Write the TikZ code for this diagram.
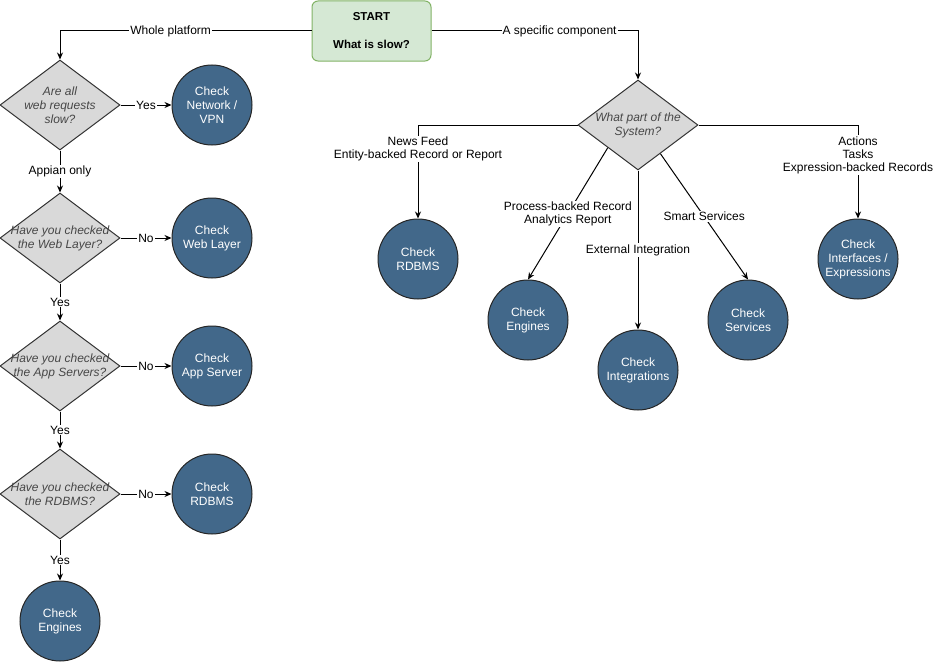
\documentclass[tikz,border=0pt]{standalone}
\usepackage{fontspec}
\setmainfont{Liberation Sans}
\usetikzlibrary{shapes.geometric,arrows.meta,calc}
\definecolor{checkblue}{HTML}{42688A}
\definecolor{startfill}{HTML}{D5E8D4}
\definecolor{startline}{HTML}{82B366}
\definecolor{asktext}{HTML}{474747}
\begin{document}
\begin{tikzpicture}[x=1pt,y=-1pt,line width=1pt,
  every node/.style={font=\fontsize{12}{14}\selectfont},
  ask/.style={diamond,draw=black!80,fill=black!15,minimum width=120pt,minimum height=90pt,inner sep=0pt},
  asktxt/.style={align=center,text=asktext,font=\fontsize{12}{14}\selectfont\itshape},
  check/.style={circle,draw=black!85,fill=checkblue,minimum size=80pt,inner sep=0pt,align=center,text=white},
  lbl/.style={fill=white,inner sep=1pt,align=center,font=\fontsize{12}{13}\selectfont},
  >={Stealth[length=7pt,width=6pt]}]
\useasboundingbox (0,0) rectangle (933,661);
\node[draw=startline,fill=startfill,rounded corners=6pt,minimum width=119pt,minimum height=60pt,align=center,
  font=\fontsize{11.5}{28}\selectfont\bfseries] (start) at (371.5,31) {START\\What is slow?};

\node[ask] (d1) at (60,105) {};
\node[asktxt] (d1t) at (d1) {Are all\\web requests\\slow?};
\node[ask] (d2) at (60,238) {};
\node[asktxt] (d2t) at (d2) {Have you checked\\the Web Layer?};
\node[ask] (d3) at (60,366) {};
\node[asktxt] (d3t) at (d3) {Have you checked\\the App Servers?};
\node[ask] (d4) at (60,494) {};
\node[asktxt] (d4t) at (d4) {Have you checked\\the RDBMS?};
\node[check] (c1) at (212,105) {Check\\Network /\\VPN};
\node[check] (c2) at (212,238) {Check\\Web Layer};
\node[check] (c3) at (212,366) {Check\\App Server};
\node[check] (c4) at (212,494) {Check\\RDBMS};
\node[check] (c5) at (60,621) {Check\\Engines};

\node[ask] (d5) at (638,125) {};
\node[asktxt] (d5t) at (d5) {What part of the\\System?};
\node[check] (rdbms) at (418,259) {Check\\RDBMS};
\node[check] (engines) at (528,320) {Check\\Engines};
\node[check] (integ) at (638,370) {Check\\Integrations};
\node[check] (services) at (748,320) {Check\\Services};
\node[check] (interf) at (858,259) {Check\\Interfaces /\\Expressions};
\coordinate (outeng) at ($(d5.south)!0.5!(d5.west)$);
\coordinate (outsrv) at ($(d5.south)!0.37!(d5.east)$);

\draw[->] (start) -| node[lbl,pos=0.28]{Whole platform} (d1);
\draw[->] (start) -| node[lbl,pos=0.31]{A specific component} (d5);
\draw[->] (d1) -- node[lbl]{Yes} (c1);
\draw[->] (d1) -- node[lbl]{Appian only} (d2);
\foreach \a/\b in {d2/c2,d3/c3,d4/c4} \draw[->] (\a) -- node[lbl]{No} (\b);
\foreach \a/\b in {d2/d3,d3/d4,d4/c5} \draw[->] (\a) -- node[lbl]{Yes} (\b);

\draw[->] (d5) -| node[lbl,pos=0.63]{News Feed\\Entity-backed Record or Report} (rdbms);
\draw[->] (outeng) -- node[lbl]{Process-backed Record\\Analytics Report} (engines.north);
\draw[->] (d5) -- node[lbl]{External Integration} (integ);
\draw[->] (outsrv) -- node[lbl]{Smart Services} (services.north);
\draw[->] (d5) -| node[lbl,pos=0.66]{Actions\\Tasks\\Expression-backed Records} (interf);
\end{tikzpicture}
\end{document}
